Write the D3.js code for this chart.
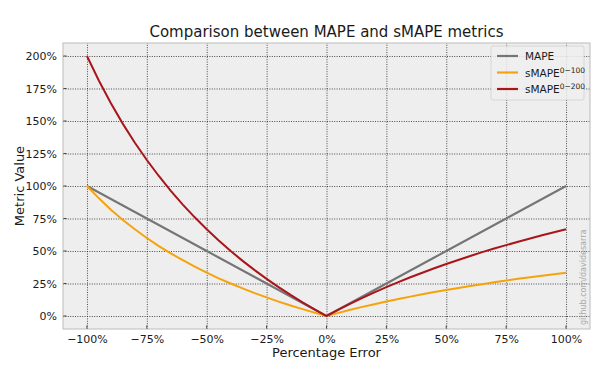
<!DOCTYPE html>
<html>
<head>
<meta charset="utf-8">
<script src="https://cdn.jsdelivr.net/npm/d3@7"></script>
<style>
  body { margin: 0; background: #fff; }
  text { font-family: "DejaVu Sans", sans-serif; fill: #1a1a1a; }
</style>
</head>
<body>
<div id="chart"></div>
<script>
// percentage error (x) from -100% to 100%, step 5%
var errors = d3.range(-100, 101, 5);
var mape = [100, 95, 90, 85, 80, 75, 70, 65, 60, 55, 50, 45, 40, 35, 30, 25, 20, 15, 10, 5, 0,
            5, 10, 15, 20, 25, 30, 35, 40, 45, 50, 55, 60, 65, 70, 75, 80, 85, 90, 95, 100];
var smape100 = [100, 90.5, 81.8, 73.9, 66.7, 60, 53.8, 48.1, 42.9, 37.9, 33.3, 29.0, 25, 21.2, 17.6, 14.3, 11.1, 8.1, 5.3, 2.6, 0,
                2.4, 4.8, 7.0, 9.1, 11.1, 13.0, 14.9, 16.7, 18.4, 20, 21.6, 23.1, 24.5, 25.9, 27.3, 28.6, 29.8, 31.0, 32.2, 33.3];
var smape200 = [200, 181.0, 163.6, 147.8, 133.3, 120, 107.7, 96.3, 85.7, 75.9, 66.7, 58.1, 50, 42.4, 35.3, 28.6, 22.2, 16.2, 10.5, 5.1, 0,
                4.9, 9.5, 14.0, 18.2, 22.2, 26.1, 29.8, 33.3, 36.7, 40, 43.1, 46.2, 49.1, 51.9, 54.5, 57.1, 59.6, 62.1, 64.4, 66.7];
var xTicks = [-100, -75, -50, -25, 0, 25, 50, 75, 100];
var yTicks = [0, 25, 50, 75, 100, 125, 150, 175, 200];

var series = [
  {name: "MAPE", sup: "", values: mape, color: "#757575"},
  {name: "sMAPE", sup: "0\u2212100", values: smape100, color: "#f5a30a"},
  {name: "sMAPE", sup: "0\u2212200", values: smape200, color: "#a8161b"}
];

var W = 614, H = 383;
var plot = {left: 63, right: 590, top: 43, bottom: 329};

var svg = d3.select("#chart").append("svg")
    .attr("width", W)
    .attr("height", H);

var x = d3.scaleLinear().domain([-110, 110]).range([plot.left, plot.right]);
var y = d3.scaleLinear().domain([-10, 210]).range([plot.bottom, plot.top]);

// background
svg.append("rect")
    .attr("x", plot.left).attr("y", plot.top)
    .attr("width", plot.right - plot.left).attr("height", plot.bottom - plot.top)
    .attr("fill", "#eeeeee");

// grid lines
var fmt = function(d) { return (d < 0 ? "\u2212" + (-d) : d) + "%"; };

var xAxis = d3.axisBottom(x).tickValues(xTicks).tickSize(-(plot.bottom - plot.top)).tickPadding(6).tickFormat(fmt);
var yAxis = d3.axisLeft(y).tickValues(yTicks).tickSize(-(plot.right - plot.left)).tickPadding(6).tickFormat(d => d + "%");

var gx = svg.append("g").attr("transform", "translate(0," + plot.bottom + ")").call(xAxis);
var gy = svg.append("g").attr("transform", "translate(" + plot.left + ",0)").call(yAxis);
[gx, gy].forEach(function(g) {
  g.select(".domain").remove();
  g.selectAll(".tick line").attr("stroke", "#222").attr("stroke-width", 0.8).attr("stroke-dasharray", "1,1.4");
  g.selectAll(".tick text").attr("font-size", 11).attr("fill", "#1a1a1a").attr("font-family", "DejaVu Sans, sans-serif");
});

// small inward tick marks
svg.append("g").selectAll("line").data(xTicks).join("line")
    .attr("x1", d => x(d)).attr("x2", d => x(d))
    .attr("y1", plot.bottom).attr("y2", plot.bottom - 3.5)
    .attr("stroke", "#444").attr("stroke-width", 1);
svg.append("g").selectAll("line").data(yTicks).join("line")
    .attr("x1", plot.left).attr("x2", plot.left + 3.5)
    .attr("y1", d => y(d)).attr("y2", d => y(d))
    .attr("stroke", "#444").attr("stroke-width", 1);

// frame
svg.append("rect")
    .attr("x", plot.left).attr("y", plot.top)
    .attr("width", plot.right - plot.left).attr("height", plot.bottom - plot.top)
    .attr("fill", "none").attr("stroke", "#bcbcbc").attr("stroke-width", 1);

// lines
var line = d3.line().x((d, i) => x(errors[i])).y(d => y(d));
svg.append("g").selectAll("path").data(series).join("path")
    .attr("d", d => line(d.values))
    .attr("fill", "none")
    .attr("stroke", d => d.color)
    .attr("stroke-width", 2);

// watermark
svg.append("text")
    .attr("transform", "translate(586," + (plot.bottom - 4) + ") rotate(-90)")
    .attr("font-size", 8)
    .style("fill", "#a8a8a8")
    .text("github.com/davidesarra");

// legend
var lg = svg.append("g").attr("transform", "translate(491,46)");
lg.append("rect")
    .attr("width", 93).attr("height", 54).attr("rx", 2)
    .attr("fill", "#eeeeee").attr("fill-opacity", 0.85)
    .attr("stroke", "#d0d0d0").attr("stroke-width", 0.8);
var items = lg.selectAll("g.item").data(series).join("g")
    .attr("class", "item")
    .attr("transform", (d, i) => "translate(6," + (10 + i * 16.5) + ")");
items.append("line")
    .attr("x1", 0).attr("x2", 21).attr("y1", 0).attr("y2", 0)
    .attr("stroke", d => d.color).attr("stroke-width", 2.2);
var lt = items.append("text")
    .attr("x", 28).attr("y", 4)
    .attr("font-size", 10.5)
    .text(d => d.name);
lt.append("tspan")
    .attr("font-size", 7.5)
    .attr("dy", -4)
    .text(d => d.sup);

// title and axis labels
svg.append("text")
    .attr("x", (plot.left + plot.right) / 2).attr("y", 37)
    .attr("text-anchor", "middle")
    .attr("font-size", 15)
    .text("Comparison between MAPE and sMAPE metrics");
svg.append("text")
    .attr("x", (plot.left + plot.right) / 2).attr("y", 357)
    .attr("text-anchor", "middle")
    .attr("font-size", 13)
    .text("Percentage Error");
svg.append("text")
    .attr("transform", "translate(24," + ((plot.top + plot.bottom) / 2) + ") rotate(-90)")
    .attr("text-anchor", "middle")
    .attr("font-size", 13)
    .text("Metric Value");
</script>
</body>
</html>
